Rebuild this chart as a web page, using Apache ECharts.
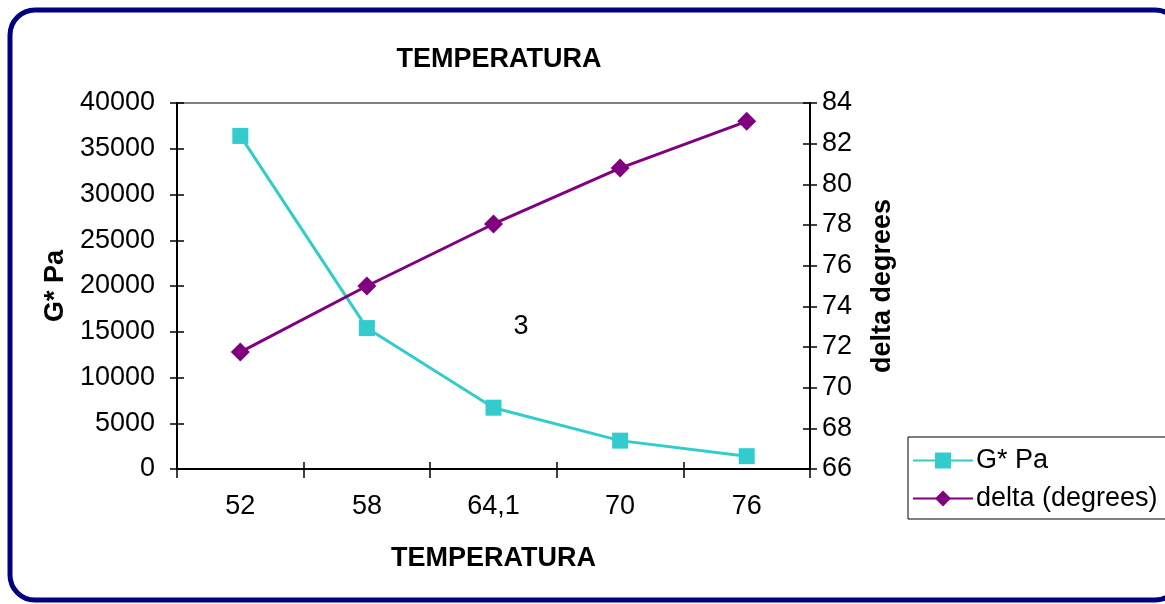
<!DOCTYPE html>
<html>
<head>
<meta charset="utf-8">
<script src="https://cdn.jsdelivr.net/npm/echarts@6/dist/echarts.min.js"></script>
<style>
html,body{margin:0;padding:0;background:#fff;}
#c{width:1165px;height:604px;}
</style>
</head>
<body>
<div id="c"></div>
<script>
const categories = ['52', '58', '64,1', '70', '76'];
const gStar = [36400, 15400, 6700, 3100, 1400];
const delta = [71.75, 75.0, 78.05, 80.8, 83.1];
const titleText = 'TEMPERATURA';
const xName = 'TEMPERATURA';
const yLeftName = 'G* Pa';
const yRightName = 'delta degrees';
const annotation = '3';

const FONT = '"Liberation Sans", Arial, sans-serif';
const FS = 27;
const chart = echarts.init(document.getElementById('c'), null, {renderer: 'canvas'});

const axisLine = {show: true, lineStyle: {color: '#000', width: 2}};
const tickOut = {show: true, inside: false, length: 7, lineStyle: {color: '#000', width: 1.5}};
const tickIn = {show: true, inside: true, length: 7, lineStyle: {color: '#000', width: 1.5}};

chart.setOption({
  animation: false,
  backgroundColor: '#fff',
  textStyle: {fontFamily: FONT},
  title: {
    text: titleText,
    left: 494,
    top: 41,
    textAlign: 'center',
    textStyle: {fontFamily: FONT, fontSize: FS, fontWeight: 'bold', color: '#000'}
  },
  grid: {
    left: 177, right: 355, top: 103, bottom: 135,
    show: true, borderColor: '#808080', borderWidth: 2, backgroundColor: 'transparent'
  },
  legend: {
    left: 908, top: 437,
    orient: 'vertical',
    borderColor: '#000', borderWidth: 1,
    padding: [10, 40, 7, 4],
    itemWidth: 60, itemHeight: 20, itemGap: 11,
    textStyle: {fontFamily: FONT, fontSize: FS, color: '#000', padding: [0, 0, 0, -2]},
    data: ['G* Pa', 'delta (degrees)']
  },
  xAxis: [{
    type: 'category', data: categories, boundaryGap: true,
    name: xName, nameLocation: 'middle', nameGap: 76,
    nameTextStyle: {fontFamily: FONT, fontSize: FS, fontWeight: 'bold', color: '#000'},
    axisLine: axisLine,
    axisTick: Object.assign({alignWithLabel: false}, tickOut, {length: 9}),
    axisLabel: {fontFamily: FONT, fontSize: FS, color: '#000', margin: 24},
    splitLine: {show: false}
  }, {
    type: 'category', data: categories, boundaryGap: true, position: 'bottom',
    axisLine: {show: false},
    axisTick: tickIn,
    axisLabel: {show: false},
    splitLine: {show: false}
  }],
  yAxis: [{
    type: 'value', min: 0, max: 40000, interval: 5000, position: 'left',
    name: yLeftName, nameLocation: 'middle', nameGap: 102, nameRotate: 90,
    nameTextStyle: {fontFamily: FONT, fontSize: FS, fontWeight: 'bold', color: '#000'},
    axisLine: axisLine, axisTick: tickOut,
    axisLabel: {fontFamily: FONT, fontSize: FS, color: '#000', margin: 22, formatter: function (v) { return String(v); }},
    splitLine: {show: false}
  }, {
    type: 'value', min: 66, max: 84, interval: 2, position: 'right',
    name: yRightName, nameLocation: 'middle', nameGap: 59, nameRotate: 90,
    nameTextStyle: {fontFamily: FONT, fontSize: FS, fontWeight: 'bold', color: '#000'},
    axisLine: axisLine, axisTick: tickOut,
    axisLabel: {fontFamily: FONT, fontSize: FS, color: '#000', margin: 12},
    splitLine: {show: false}
  }, {
    type: 'value', min: 0, max: 40000, interval: 5000, position: 'left',
    axisLine: {show: false}, axisTick: tickIn, axisLabel: {show: false}, splitLine: {show: false}
  }, {
    type: 'value', min: 66, max: 84, interval: 2, position: 'right',
    axisLine: {show: false}, axisTick: tickIn, axisLabel: {show: false}, splitLine: {show: false}
  }],
  series: [{
    name: 'G* Pa', type: 'line', data: gStar, xAxisIndex: 0, yAxisIndex: 0,
    symbol: 'rect', symbolSize: 16,
    lineStyle: {color: '#33CCCC', width: 3},
    itemStyle: {color: '#33CCCC'}
  }, {
    name: 'delta (degrees)', type: 'line', data: delta, xAxisIndex: 0, yAxisIndex: 1,
    symbol: 'diamond', symbolSize: 19,
    lineStyle: {color: '#800080', width: 3},
    itemStyle: {color: '#800080'}
  }],
  graphic: [{
    type: 'rect', z: 100, silent: true,
    shape: {x: 10, y: 10, width: 1170, height: 590, r: 25},
    style: {fill: 'none', stroke: '#000080', lineWidth: 5}
  }, {
    type: 'text', z: 100, x: 521, y: 327, silent: true,
    style: {text: annotation, fontFamily: FONT, fontSize: FS, fill: '#000', align: 'center', verticalAlign: 'middle'}
  }]
});
</script>
</body>
</html>
